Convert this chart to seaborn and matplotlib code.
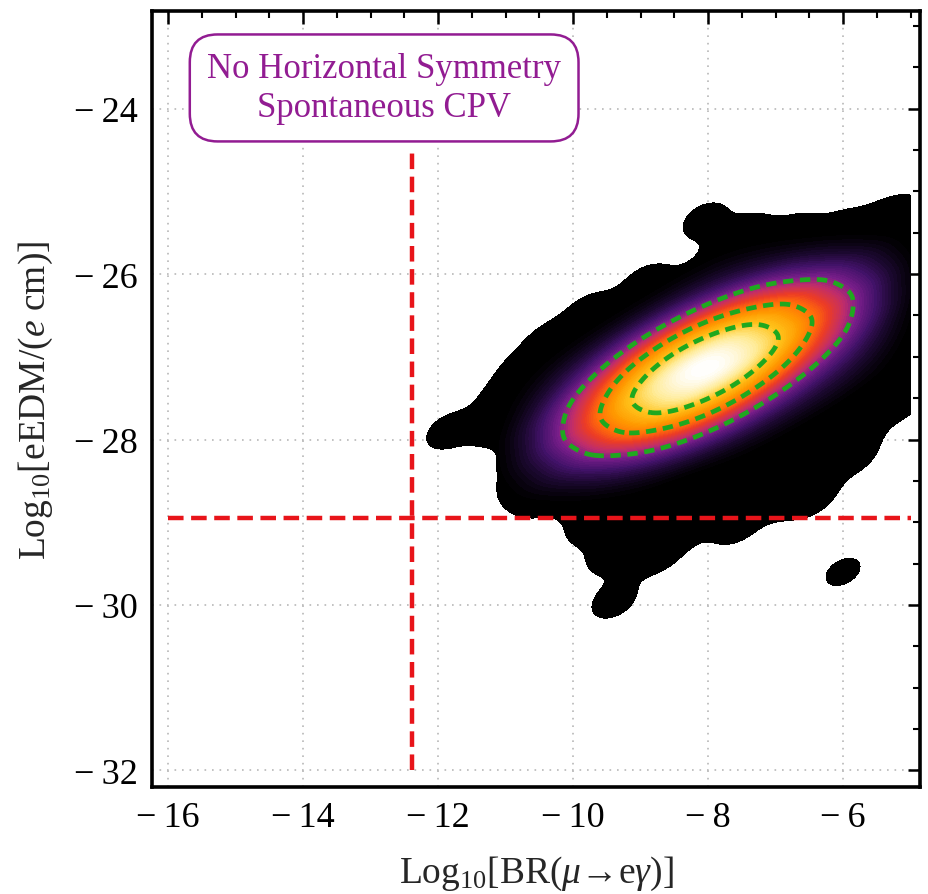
import numpy as np
import matplotlib
matplotlib.use("Agg")
import matplotlib.pyplot as plt
from matplotlib.colors import LinearSegmentedColormap, ListedColormap
from matplotlib.ticker import FuncFormatter
import seaborn as sns

# anchor points covering the populated (black) region, read row by row
edge_x = [-5.2,
          -8.05, -7.4, -6.7, -6.0, -5.4,
          -7.7, -7.0, -6.3, -5.6, -5.1,
          -8.9, -8.2, -7.5, -6.8, -6.1, -5.4,
          -9.75, -9.05, -8.35, -7.65, -6.95, -6.25, -5.55, -5.1,
          -10.35, -9.65, -8.95, -8.25, -7.55, -6.85, -6.15, -5.45,
          -10.75, -10.05, -9.35, -8.65, -7.95, -7.25, -6.55, -5.85, -5.2,
          -11.05, -10.35, -9.65, -8.95, -8.25, -7.55, -6.85, -6.15, -5.45, -5.1,
          -11.85, -11.15, -10.45, -9.75, -9.05, -8.35, -7.65, -6.95, -6.25, -5.75,
          -10.75, -10.05, -9.35, -8.65, -7.95, -7.25, -6.55, -5.85,
          -10.75, -10.05, -9.35, -8.65, -7.95, -7.25, -6.55,
          -10.5, -9.8, -9.1, -8.4, -7.7, -7.0, -6.5,
          -9.75, -9.05, -8.35, -7.6,
          -9.45, -8.75,
          -9.4,
          -6.0]
edge_y = [-25.3,
          -25.35, -25.5, -25.5, -25.45, -25.4,
          -25.75, -25.75, -25.75, -25.75, -25.75,
          -26.1, -26.1, -26.1, -26.1, -26.1, -26.1,
          -26.45, -26.45, -26.45, -26.45, -26.45, -26.45, -26.45, -26.45,
          -26.8, -26.8, -26.8, -26.8, -26.8, -26.8, -26.8, -26.8,
          -27.15, -27.15, -27.15, -27.15, -27.15, -27.15, -27.15, -27.15, -27.15,
          -27.5, -27.5, -27.5, -27.5, -27.5, -27.5, -27.5, -27.5, -27.5, -27.5,
          -27.9, -27.85, -27.85, -27.85, -27.85, -27.85, -27.85, -27.85, -27.85, -27.85,
          -28.2, -28.2, -28.2, -28.2, -28.2, -28.2, -28.2, -28.2,
          -28.55, -28.55, -28.55, -28.55, -28.55, -28.55, -28.55,
          -28.7, -28.7, -28.7, -28.7, -28.7, -28.7, -28.7,
          -29.05, -29.05, -29.05, -29.05,
          -29.4, -29.4,
          -29.95,
          -29.6]
edge_w = [1.0] * (len(edge_x) - 1) + [0.8]

# relative density of the bright core, sampled on a coarse grid
core_x = [-7.7, -7.0, -6.3, -5.6,
          -8.4, -7.7, -7.0, -6.3, -5.6,
          -9.1, -8.4, -7.7, -7.0, -6.3, -5.6,
          -9.8, -9.1, -8.4, -7.7, -7.0, -6.3, -5.6,
          -10.5, -9.8, -9.1, -8.4, -7.7, -7.0, -6.3, -5.6,
          -10.5, -9.8, -9.1, -8.4, -7.7, -7.0, -6.3,
          -10.5, -9.8, -9.1, -8.4, -7.7, -7.0,
          -10.5, -9.8, -9.1, -8.4, -7.7,
          -10.5, -9.8, -9.1]
core_y = [-25.75, -25.75, -25.75, -25.75,
          -26.1, -26.1, -26.1, -26.1, -26.1,
          -26.45, -26.45, -26.45, -26.45, -26.45, -26.45,
          -26.8, -26.8, -26.8, -26.8, -26.8, -26.8, -26.8,
          -27.15, -27.15, -27.15, -27.15, -27.15, -27.15, -27.15, -27.15,
          -27.5, -27.5, -27.5, -27.5, -27.5, -27.5, -27.5,
          -27.85, -27.85, -27.85, -27.85, -27.85, -27.85,
          -28.2, -28.2, -28.2, -28.2, -28.2,
          -28.55, -28.55, -28.55]
core_w = [0.5, 0.7, 0.9, 0.9,
          0.5, 1.3, 2.4, 2.7, 1.8,
          0.5, 1.9, 4.3, 5.4, 4.0, 1.9,
          0.5, 2.1, 5.7, 8.2, 7.0, 3.4, 1.3,
          0.4, 1.6, 5.2, 8.8, 8.8, 5.0, 1.8, 0.7,
          0.9, 3.3, 7.0, 8.0, 5.5, 2.1, 0.8,
          1.5, 3.8, 5.4, 4.3, 2.0, 0.7,
          1.3, 2.3, 2.2, 1.3, 0.5,
          0.7, 0.8, 0.6]

# experimental bounds
bound_x = -12.38
bound_y = -28.95

x_ticks = [-16, -14, -12, -10, -8, -6]
y_ticks = [-32, -30, -28, -26, -24]

sns.set_style("white")
plt.rcParams["font.family"] = ["Liberation Serif", "DejaVu Serif"]
plt.rcParams["mathtext.fontset"] = "custom"
plt.rcParams["mathtext.rm"] = "Liberation Serif"
plt.rcParams["mathtext.it"] = "Liberation Serif:italic"

sunset = LinearSegmentedColormap.from_list("sunset", [
    (0.0, "#000000"), (0.08, "#1c0830"), (0.16, "#43126a"), (0.25, "#7a1e8a"),
    (0.33, "#c02d6a"), (0.42, "#ec3c25"), (0.5, "#ff6a0a"), (0.62, "#ff9a00"),
    (0.74, "#ffc21a"), (0.86, "#ffe88a"), (1.0, "#ffffff")])

clip_box = ((-16.0, -5.0), (-32.0, -22.8))

fig = plt.figure(figsize=(9.29, 8.95), dpi=100)
ax = fig.add_axes([152 / 929, 1 - 788 / 895, (920 - 152) / 929, (788 - 12) / 895])

# black footprint
sns.kdeplot(x=edge_x, y=edge_y, weights=edge_w, bw_method=0.17, fill=True,
            levels=2, thresh=0.05, cmap=ListedColormap(["black"]), clip=clip_box,
            gridsize=300, ax=ax, zorder=1)
# glowing core
sns.kdeplot(x=core_x, y=core_y, weights=core_w, bw_method=0.4, fill=True,
            levels=80, thresh=0.03, cmap=sunset, clip=clip_box, gridsize=250,
            ax=ax, zorder=2)
# credible contours
sns.kdeplot(x=core_x, y=core_y, weights=core_w, bw_method=0.4, fill=False,
            levels=[0.28, 0.52, 0.74], colors="#1fa81f", linestyles="--",
            linewidths=3.4, clip=clip_box, gridsize=250, ax=ax, zorder=3)
for c in ax.collections[-1:]:
    c.set_dashes([(0, (2.2, 1.4))])

ax.plot([bound_x, bound_x], [-32, -24.5], color="#e8141a", lw=3.2,
        ls=(0, (3.5, 1.7)), zorder=4)
ax.plot([-16, -5], [bound_y, bound_y], color="#e8141a", lw=3.2,
        ls=(0, (3.5, 1.7)), zorder=4)

ax.text(-12.8, -23.75, "No Horizontal Symmetry\nSpontaneous CPV", color="#921c92",
        fontsize=25, ha="center", va="center", linespacing=1.25, zorder=5,
        bbox=dict(boxstyle="round,pad=0.5,rounding_size=0.8", fc="white",
                  ec="#921c92", lw=1.8))

ax.set_xlim(-16.24, -4.86)
ax.set_ylim(-32.2, -22.82)
ax.set_xticks(x_ticks)
ax.set_yticks(y_ticks)
ax.set_xticks(np.arange(-16, -4.9, 0.5), minor=True)
ax.set_yticks(np.arange(-32, -22.8, 0.5), minor=True)
tick_fmt = FuncFormatter(lambda v, pos: f"\u2212\u2009{abs(int(round(v)))}" if v < 0
                         else f"{int(round(v))}")
ax.xaxis.set_major_formatter(tick_fmt)
ax.yaxis.set_major_formatter(tick_fmt)
ax.grid(True, which="major", color="#b8b8b8", lw=1.2, ls=(0, (1, 3.5)))
ax.set_axisbelow(True)
ax.tick_params(which="both", direction="in", top=True, right=True, colors="black",
               labelsize=26)
ax.tick_params(which="major", length=9, width=1.8, pad=10)
ax.tick_params(which="minor", length=5, width=1.5)
for s in ax.spines.values():
    s.set_linewidth(2.6)
    s.set_color("black")

ax.set_xlabel("Log$_{10}$[BR($\\mu$→e$\\gamma$)]", fontsize=27, labelpad=14)
ax.set_ylabel("Log$_{10}$[eEDM/($e$ cm)]", fontsize=27, labelpad=14)

fig.savefig("out.png", dpi=100)
